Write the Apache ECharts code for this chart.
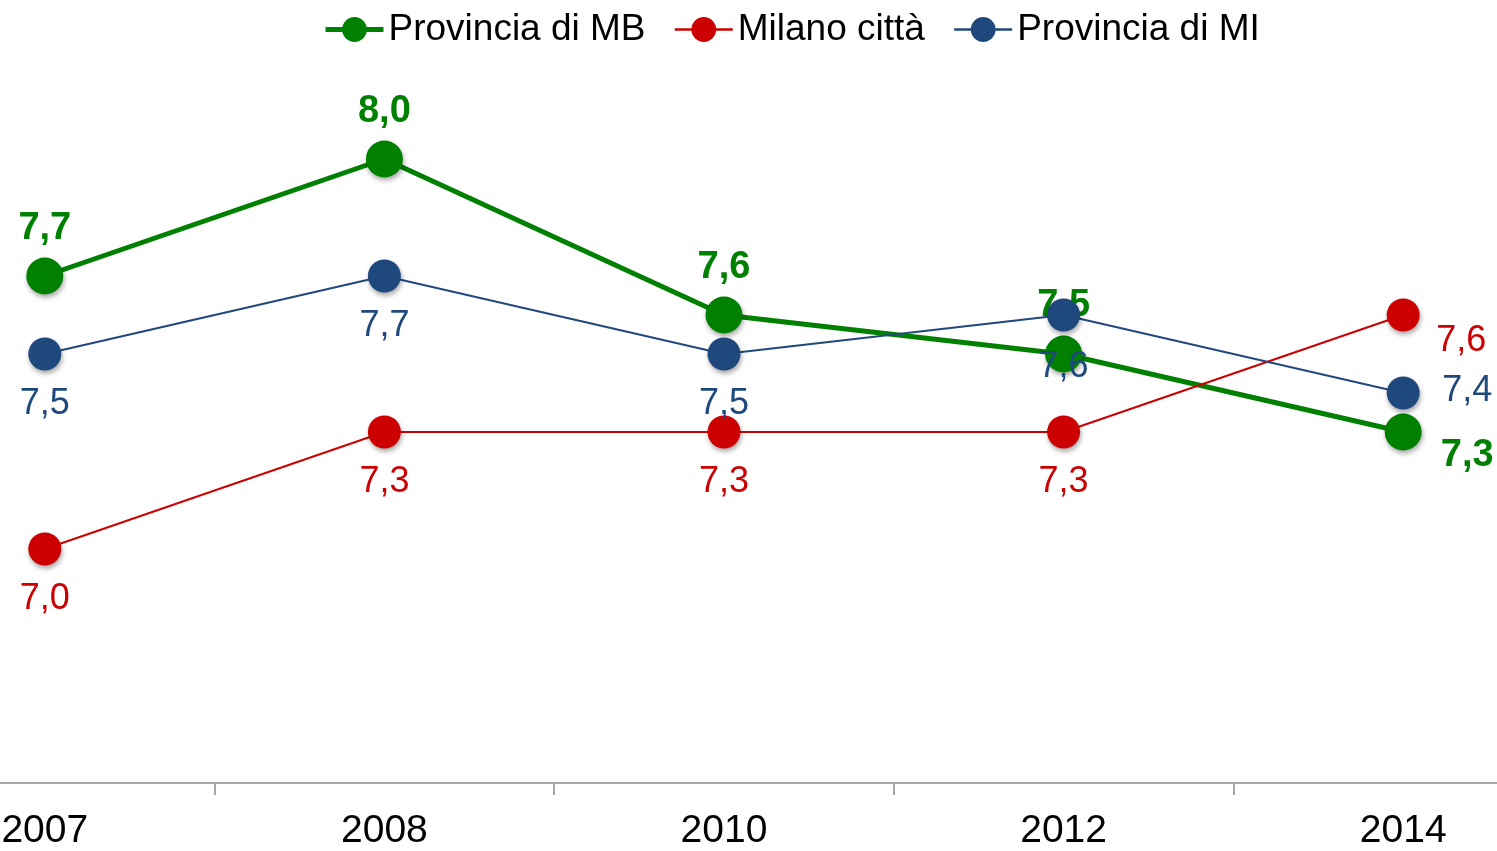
<!DOCTYPE html>
<html>
<head>
<meta charset="utf-8">
<script src="https://cdn.jsdelivr.net/npm/echarts@6/dist/echarts.min.js"></script>
<style>
html,body{margin:0;padding:0;background:#fff;}
#chart{width:1497px;height:851px;}
</style>
</head>
<body>
<div id="chart"></div>
<script>
var categories = ['2007', '2008', '2010', '2012', '2014'];
var seriesNames = ['Provincia di MB', 'Milano città', 'Provincia di MI'];
var mbValues = [7.7, 8.0, 7.6, 7.5, 7.3];
var milanoValues = [7.0, 7.3, 7.3, 7.3, 7.6];
var miValues = [7.5, 7.7, 7.5, 7.6, 7.4];

// label offsets per point (layout only)
var mbOffsets = [[0,-47],[0,-47],[0,-47],[0,-48],[64,24]];
var milanoOffsets = [[0,50],[0,50],[0,50],[0,50],[58,26]];
var miOffsets = [[0,50],[0,50],[0,50],[0,52],[64,-2]];

var FONT = '"Liberation Sans", Arial, sans-serif';
var GREEN = '#008000', RED = '#CC0000', BLUE = '#1F497D';

function buildData(values, offsets) {
  return values.map(function (v, i) {
    return { value: v, label: { offset: offsets[i] } };
  });
}
function fmt(p) { return p.value.toFixed(1).replace('.', ','); }

var markerShadow = { shadowBlur: 5, shadowColor: 'rgba(0,0,0,0.35)', shadowOffsetX: 1, shadowOffsetY: 3 };

var chart = echarts.init(document.getElementById('chart'));
chart.setOption({
  animation: false,
  backgroundColor: '#ffffff',
  legend: {
    top: 6,
    left: 318,
    itemGap: 28,
    itemWidth: 58,
    itemHeight: 31,
    textStyle: { fontFamily: FONT, fontSize: 37, color: '#000' },
    data: [
      { name: seriesNames[0], lineStyle: { width: 5, color: GREEN }, itemStyle: { color: GREEN } },
      { name: seriesNames[1], lineStyle: { width: 2.5, color: RED }, itemStyle: { color: RED } },
      { name: seriesNames[2], lineStyle: { width: 2.5, color: BLUE }, itemStyle: { color: BLUE } }
    ]
  },
  grid: { left: -125, right: -76, top: 81, bottom: 68, outerBoundsMode: 'none', containLabel: false },
  xAxis: {
    type: 'category',
    data: categories,
    boundaryGap: true,
    axisLine: { lineStyle: { color: '#A6A6A6', width: 2 } },
    axisTick: { show: true, length: 12, lineStyle: { color: '#A6A6A6', width: 2 } },
    axisLabel: { fontFamily: FONT, fontSize: 39, color: '#000', margin: 29 }
  },
  yAxis: { type: 'value', min: 6.4, max: 8.2, show: false, splitLine: { show: false } },
  series: [
    {
      name: seriesNames[0], type: 'line', data: buildData(mbValues, mbOffsets),
      symbol: 'circle', symbolSize: 37,
      lineStyle: { color: GREEN, width: 5 },
      itemStyle: Object.assign({ color: GREEN }, markerShadow),
      label: { show: true, position: 'inside', formatter: fmt, color: GREEN, fontFamily: FONT, fontSize: 38, fontWeight: 'bold' },
      z: 2
    },
    {
      name: seriesNames[1], type: 'line', data: buildData(milanoValues, milanoOffsets),
      symbol: 'circle', symbolSize: 33,
      lineStyle: { color: RED, width: 2 },
      itemStyle: Object.assign({ color: RED }, markerShadow),
      label: { show: true, position: 'inside', formatter: fmt, color: RED, fontFamily: FONT, fontSize: 36 },
      z: 3
    },
    {
      name: seriesNames[2], type: 'line', data: buildData(miValues, miOffsets),
      symbol: 'circle', symbolSize: 33,
      lineStyle: { color: BLUE, width: 2 },
      itemStyle: Object.assign({ color: BLUE }, markerShadow),
      label: { show: true, position: 'inside', formatter: fmt, color: BLUE, fontFamily: FONT, fontSize: 36 },
      z: 4
    }
  ]
});
</script>
</body>
</html>
